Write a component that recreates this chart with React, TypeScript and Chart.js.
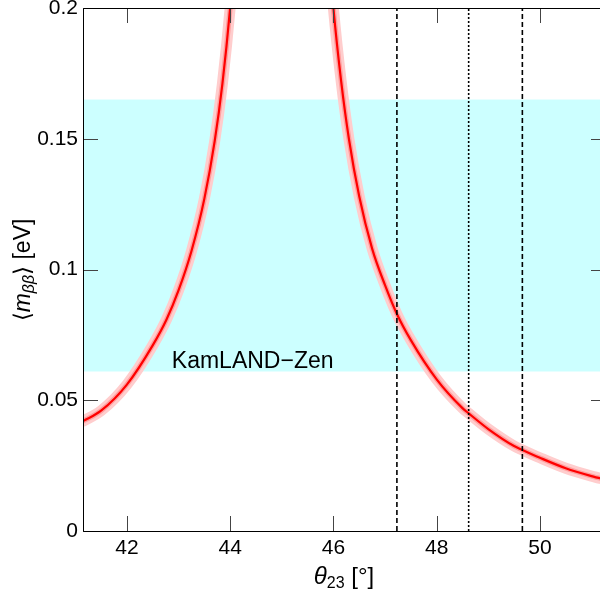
import { useEffect, useRef } from "react";
import { Chart, registerables } from "chart.js";

Chart.register(...registerables);

// ---- data ----
const xTicks = [42, 44, 46, 48, 50];
const yTicks = [0, 0.05, 0.1, 0.15, 0.2];
const yTickLabels = ["0", "0.05", "0.1", "0.15", "0.2"];

const leftTheta = [41.15, 41.5, 42, 42.5, 42.77, 43, 43.25, 43.5, 43.7, 43.85, 44, 44.1];
const leftMass = [0.042, 0.046, 0.056, 0.071, 0.081, 0.092, 0.107, 0.127, 0.149, 0.171, 0.2, 0.225];

const rightTheta = [45.9, 46, 46.15, 46.3, 46.5, 46.75, 47, 47.23, 47.5, 48, 48.5, 48.62, 49, 49.5, 49.66, 50, 50.5, 51, 51.3];
const rightMass = [0.225, 0.2, 0.172, 0.15, 0.128, 0.108, 0.094, 0.083, 0.073, 0.058, 0.047, 0.045, 0.039, 0.0325, 0.031, 0.028, 0.024, 0.021, 0.0195];

const dashedTheta = [47.23, 49.66];
const dottedTheta = [48.62];

const bandRange = [0.061, 0.165];
const bandLabel = "KamLAND\u2212Zen";
const bandLabelPos = [42.87, 0.0625];

const xRange = [41.15, 51.28];
const yRange = [0, 0.2];

const FONT = '"Liberation Sans", Arial, Helvetica, sans-serif';

function pts(xs: number[], ys: number[]) {
  return xs.map((x, i) => ({ x, y: ys[i] }));
}

export default function App() {
  const ref = useRef<HTMLCanvasElement | null>(null);

  useEffect(() => {
    const canvas = ref.current;
    if (!canvas) return;

    const bandPlugin = {
      id: "band",
      beforeDatasetsDraw(chart: any) {
        const { ctx, chartArea, scales } = chart;
        const y = scales.y;
        const y1 = y.getPixelForValue(bandRange[1]);
        const y0 = y.getPixelForValue(bandRange[0]);
        ctx.save();
        ctx.fillStyle = "rgb(204,255,255)";
        ctx.fillRect(chartArea.left, y1, chartArea.right - chartArea.left, y0 - y1);
        ctx.restore();
      },
      afterDatasetsDraw(chart: any) {
        const { ctx, scales } = chart;
        ctx.save();
        ctx.fillStyle = "#000";
        ctx.font = `23px ${FONT}`;
        ctx.textAlign = "left";
        ctx.textBaseline = "alphabetic";
        ctx.fillText(
          bandLabel,
          scales.x.getPixelForValue(bandLabelPos[0]),
          scales.y.getPixelForValue(bandLabelPos[1])
        );
        ctx.restore();
      },
      afterDraw(chart: any) {
        const { ctx, chartArea, scales } = chart;
        const { left, right, top, bottom } = chartArea;
        ctx.save();
        // tick marks, inward, all four sides
        ctx.strokeStyle = "#444";
        ctx.lineWidth = 1;
        const tl = 15;
        xTicks.forEach((v) => {
          const px = Math.round(scales.x.getPixelForValue(v)) + 0.5;
          ctx.beginPath();
          ctx.moveTo(px, bottom);
          ctx.lineTo(px, bottom - tl);
          ctx.moveTo(px, top);
          ctx.lineTo(px, top + tl);
          ctx.stroke();
        });
        yTicks.forEach((v) => {
          const py = Math.round(scales.y.getPixelForValue(v)) + 0.5;
          ctx.beginPath();
          ctx.moveTo(left, py);
          ctx.lineTo(left + tl, py);
          ctx.moveTo(right, py);
          ctx.lineTo(right - tl, py);
          ctx.stroke();
        });
        // frame
        ctx.strokeStyle = "#000";
        ctx.lineWidth = 1;
        ctx.beginPath();
        ctx.rect(Math.round(left) + 0.5, Math.round(top) + 0.5, right - left, bottom - top);
        ctx.stroke();

        ctx.fillStyle = "#000";
        ctx.textBaseline = "alphabetic";
        // x title: θ23 [°]
        {
          const big = 24;
          const small = 16;
          const parts = [
            { t: "\u03B8", f: `italic ${big}px ${FONT}`, dy: 0 },
            { t: "23", f: `${small}px ${FONT}`, dy: 4 },
            { t: " [\u00B0]", f: `${big}px ${FONT}`, dy: 0 },
          ];
          let w = 0;
          parts.forEach((p) => {
            ctx.font = p.f;
            w += ctx.measureText(p.t).width;
          });
          const cx = 344;
          let x = cx - w / 2;
          const base = 584;
          ctx.textAlign = "left";
          parts.forEach((p) => {
            ctx.font = p.f;
            ctx.fillText(p.t, x, base + p.dy);
            x += ctx.measureText(p.t).width;
          });
        }
        // y title: ⟨mββ⟩ [eV]
        {
          const big = 23;
          const small = 16;
          const parts = [
            { t: "\u27E8", f: `${big}px ${FONT}`, dy: 0 },
            { t: "m", f: `italic ${big}px ${FONT}`, dy: 0 },
            { t: "\u03B2\u03B2", f: `italic ${small}px ${FONT}`, dy: 4 },
            { t: "\u27E9", f: `${big}px ${FONT}`, dy: 0 },
            { t: " [eV]", f: `${big}px ${FONT}`, dy: 0 },
          ];
          let w = 0;
          parts.forEach((p) => {
            ctx.font = p.f;
            w += ctx.measureText(p.t).width;
          });
          ctx.translate(30, 270);
          ctx.rotate(-Math.PI / 2);
          let x = -w / 2;
          ctx.textAlign = "left";
          parts.forEach((p) => {
            ctx.font = p.f;
            ctx.fillText(p.t, x, p.dy);
            x += ctx.measureText(p.t).width;
          });
        }
        ctx.restore();
      },
    };

    const curveLayers = [
      { color: "rgb(255,0,0)", width: 2.2, order: 3 },
      { color: "rgb(255,160,160)", width: 5, order: 4 },
      { color: "rgb(255,205,205)", width: 11, order: 5 },
    ];

    const datasets: any[] = [];
    dashedTheta.forEach((t) => {
      datasets.push({
        data: [{ x: t, y: yRange[0] }, { x: t, y: yRange[1] }],
        borderColor: "#000",
        borderWidth: 1.6,
        borderDash: [5, 3],
        pointRadius: 0,
        order: 0,
      });
    });
    dottedTheta.forEach((t) => {
      datasets.push({
        data: [{ x: t, y: yRange[0] }, { x: t, y: yRange[1] }],
        borderColor: "#000",
        borderWidth: 1.6,
        borderDash: [2, 2],
        pointRadius: 0,
        order: 0,
      });
    });
    curveLayers.forEach((l) => {
      [pts(leftTheta, leftMass), pts(rightTheta, rightMass)].forEach((d) => {
        datasets.push({
          data: d,
          borderColor: l.color,
          borderWidth: l.width,
          pointRadius: 0,
          cubicInterpolationMode: "monotone",
          borderCapStyle: "round",
          borderJoinStyle: "round",
          order: l.order,
        });
      });
    });

    const chart = new Chart(canvas, {
      type: "line",
      data: { datasets },
      options: {
        animation: false,
        responsive: false,
        maintainAspectRatio: false,
        devicePixelRatio: 1,
        layout: { padding: { top: 8, right: 9, left: 0, bottom: 0 } },
        plugins: {
          legend: { display: false },
          tooltip: { enabled: false },
        },
        scales: {
          x: {
            type: "linear",
            min: xRange[0],
            max: xRange[1],
            grid: { display: false, drawTicks: false },
            border: { display: false },
            afterBuildTicks: (s: any) => {
              s.ticks = xTicks.map((v) => ({ value: v }));
            },
            afterFit: (s: any) => {
              s.height = 62;
              s.paddingLeft = 0;
              s.paddingRight = 0;
            },
            ticks: {
              color: "#000",
              font: { family: FONT, size: 21 },
              padding: 5,
              maxRotation: 0,
              autoSkip: false,
              callback: (v: any) => String(v),
            },
          },
          y: {
            type: "linear",
            min: yRange[0],
            max: yRange[1],
            grid: { display: false, drawTicks: false },
            border: { display: false },
            afterBuildTicks: (s: any) => {
              s.ticks = yTicks.map((v) => ({ value: v }));
            },
            afterFit: (s: any) => {
              s.width = 83;
              s.paddingTop = 0;
              s.paddingBottom = 0;
            },
            ticks: {
              color: "#000",
              font: { family: FONT, size: 21 },
              padding: 5,
              autoSkip: false,
              callback: (v: any) => {
                const i = yTicks.findIndex((t) => Math.abs(t - v) < 1e-9);
                return i >= 0 ? yTickLabels[i] : "";
              },
            },
          },
        },
      },
      plugins: [bandPlugin],
    });

    return () => chart.destroy();
  }, []);

  return (
    <div
      style={{
        position: "fixed",
        left: 0,
        top: 0,
        width: 600,
        height: 593,
        overflow: "hidden",
        background: "#fff",
      }}
    >
      <canvas ref={ref} width={615} height={593} style={{ width: 615, height: 593, display: "block" }} />
    </div>
  );
}
